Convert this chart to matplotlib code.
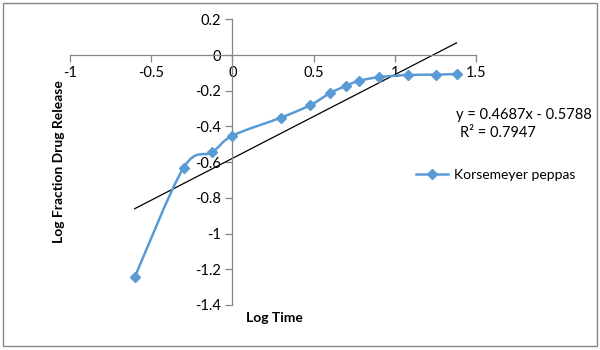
import numpy as np
import matplotlib.pyplot as plt
from matplotlib.path import Path
from matplotlib.patches import PathPatch

plt.rcParams['font.family'] = ['Lato', 'DejaVu Sans']

# log time / log fraction released
log_time = [-0.602, -0.301, -0.125, 0.0, 0.301, 0.477, 0.602, 0.699, 0.778, 0.903, 1.079, 1.255, 1.380]
log_frac = [-1.245, -0.632, -0.545, -0.452, -0.350, -0.282, -0.213, -0.173, -0.145, -0.124, -0.112, -0.110, -0.106]
slope = 0.4687
intercept = -0.5788
r2 = 0.7947
series_name = 'Korsemeyer peppas'

blue = '#5B9BD5'
grey = '#868686'


def smooth_path(xs, ys):
    # excel-ish smoothed line: catmull-rom turned into bezier segments
    pts = np.column_stack([xs, ys])
    n = len(pts)
    verts = [pts[0]]
    codes = [Path.MOVETO]
    for i in range(n - 1):
        p0 = pts[max(i - 1, 0)]
        p1 = pts[i]
        p2 = pts[i + 1]
        p3 = pts[min(i + 2, n - 1)]
        c1 = p1 + (p2 - p0) / 6.0
        c2 = p2 - (p3 - p1) / 6.0
        verts += [c1, c2, p2]
        codes += [Path.CURVE4] * 3
    return Path(verts, codes)


fig = plt.figure(figsize=(6, 3.5), dpi=100)
ax = fig.add_axes([70 / 600, 1 - 305 / 350, 406 / 600, 285.7 / 350])

ax.add_patch(PathPatch(smooth_path(log_time, log_frac), fill=False, edgecolor=blue, lw=1.8, zorder=3))
ax.plot(log_time, log_frac, ls='none', marker='D', ms=5, color=blue, zorder=4)
ax.plot([], [], marker='D', ms=5, color=blue, lw=1.8, label=series_name)

tx = np.array([log_time[0], log_time[-1]])
ax.plot(tx, slope * tx + intercept, color='black', lw=0.9, zorder=2)

ax.set_xlim(-1, 1.5)
ax.set_ylim(-1.4, 0.2)
ax.set_xticks([-1, -0.5, 0, 0.5, 1, 1.5])
ax.set_xticklabels(['-1', '-0.5', '0', '0.5', '1', '1.5'])
ax.set_yticks([-1.4, -1.2, -1, -0.8, -0.6, -0.4, -0.2, 0, 0.2])
ax.set_yticklabels(['-1.4', '-1.2', '-1', '-0.8', '-0.6', '-0.4', '-0.2', '0', '0.2'])

for s in ['top', 'right']:
    ax.spines[s].set_visible(False)
ax.spines['left'].set_position(('data', 0))
ax.spines['bottom'].set_position(('data', 0))
for s in ['left', 'bottom']:
    ax.spines[s].set_color(grey)
    ax.spines[s].set_linewidth(0.9)
ax.tick_params(direction='out', length=5, width=0.9, color=grey, labelsize=10.5, labelcolor='black', pad=3)
ax.patch.set_visible(False)

fig.text(59 / 600, 1 - 162 / 350, 'Log Fraction Drug Release', rotation=90, ha='center', va='center',
         fontsize=10, fontweight='bold')
fig.text(274 / 600, 1 - 318 / 350, 'Log Time', ha='center', va='center', fontsize=10, fontweight='bold')

fig.text(592 / 600, 1 - 115 / 350, f'y = {slope}x - {abs(intercept)}', ha='right', va='center', fontsize=10.5)
fig.text(498 / 600, 1 - 133 / 350, f'R\u00b2 = {r2}', ha='center', va='center', fontsize=10.5)

ax.legend(loc='center left', bbox_to_anchor=(410 / 600, 1 - 175 / 350), bbox_transform=fig.transFigure,
          frameon=False, fontsize=10, handlelength=2.3, handletextpad=0.5, borderaxespad=0)

fig.patches.append(plt.Rectangle((3 / 600, 4 / 350), 594 / 600, 343 / 350, transform=fig.transFigure,
                                 fill=False, edgecolor=grey, lw=1))

fig.savefig('out.png', dpi=100)
